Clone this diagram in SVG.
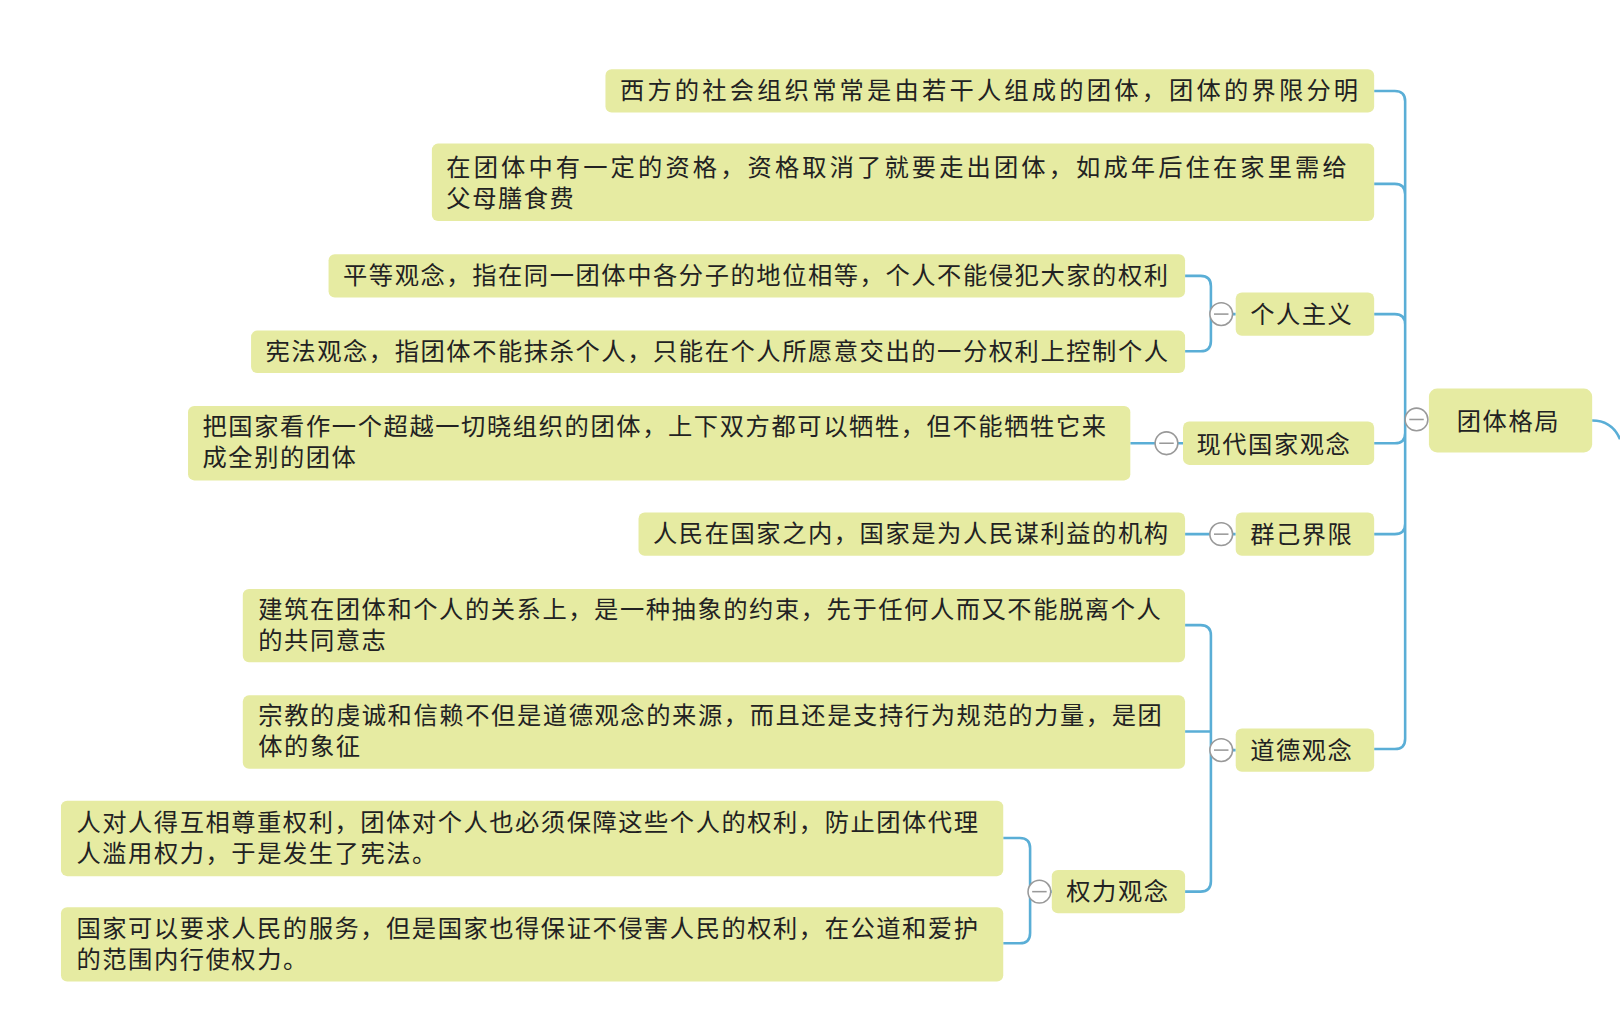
<svg xmlns="http://www.w3.org/2000/svg" width="1620" height="1031" viewBox="0 0 1620 1031">
<style>
.b{fill:#e6eba2}
.t{font-family:"Noto Sans CJK SC","Noto Sans",sans-serif;font-size:23.5px;letter-spacing:1.5px;fill:#222}
.c{fill:none;stroke:#5aaed6;stroke-width:2.5}
.o{fill:#fff;stroke:#999;stroke-width:1.5}
.m{stroke:#999;stroke-width:1.5}
</style>
<rect width="1620" height="1031" fill="#fff"/>
<g transform="scale(1.0332)">
<g id="connectors">
<path class="c" d="M1371,406 H1360 M1330,88 H1350 Q1360,88 1360,98 V715 Q1360,725 1350,725 H1330 M1330,178 H1350 Q1360,178 1360,188 M1330,304 H1350 Q1360,304 1360,314 M1330,429 H1350 Q1360,429 1360,419 M1330,517 H1350 Q1360,517 1360,507"/>
<path class="c" d="M1147,267 H1162 Q1172,267 1172,277 V330 Q1172,340 1162,340 H1147 M1172,304 H1196"/>
<path class="c" d="M1094,429 H1145"/>
<path class="c" d="M1147,517 H1196"/>
<path class="c" d="M1147,605 H1162 Q1172,605 1172,615 V853 Q1172,863 1162,863 H1147 M1147,708 H1172 M1172,726 H1196"/>
<path class="c" d="M971,811 H987 Q997,811 997,821 V903 Q997,913 987,913 H971 M997,863 H1018"/>
<path class="c" stroke-width="4" d="M1541,407 Q1560,407 1568,425"/>
</g>
<g id="root"><rect class="b" x="1383" y="376" width="158" height="62" rx="8"/><text class="t" x="1410" y="416" font-size="25">团体格局</text><circle class="o" cx="1371" cy="406" r="11"/><line class="m" x1="1364" y1="406" x2="1378" y2="406"/></g>
<g id="n1"><rect class="b" x="586" y="67" width="744" height="42" rx="6"/><text class="t" x="600" y="96" textLength="716">西方的社会组织常常是由若干人组成的团体，团体的界限分明</text></g>
<g id="n2"><rect class="b" x="418" y="139" width="912" height="75" rx="6"/><text class="t" x="432" y="170" textLength="873">在团体中有一定的资格，资格取消了就要走出团体，如成年后住在家里需给</text><text class="t" x="432" y="200">父母膳食费</text></g>
<g id="n3"><rect class="b" x="1196" y="283" width="134" height="42" rx="6"/><text class="t" x="1210" y="313" font-size="25">个人主义</text><circle class="o" cx="1182" cy="304" r="11"/><line class="m" x1="1175" y1="304" x2="1189" y2="304"/></g>
<g id="n3a"><rect class="b" x="318" y="246" width="829" height="42" rx="6"/><text class="t" x="332" y="275" textLength="800">平等观念，指在同一团体中各分子的地位相等，个人不能侵犯大家的权利</text></g>
<g id="n3b"><rect class="b" x="243" y="320" width="904" height="41" rx="6"/><text class="t" x="257" y="348" textLength="875">宪法观念，指团体不能抹杀个人，只能在个人所愿意交出的一分权利上控制个人</text></g>
<g id="n4"><rect class="b" x="1145" y="408" width="185" height="42" rx="6"/><text class="t" x="1158" y="438" font-size="25">现代国家观念</text><circle class="o" cx="1129" cy="429" r="11"/><line class="m" x1="1122" y1="429" x2="1136" y2="429"/></g>
<g id="n4a"><rect class="b" x="182" y="393" width="912" height="72" rx="6"/><text class="t" x="196" y="421" textLength="876">把国家看作一个超越一切晓组织的团体，上下双方都可以牺牲，但不能牺牲它来</text><text class="t" x="196" y="451">成全别的团体</text></g>
<g id="n5"><rect class="b" x="1196" y="496" width="134" height="42" rx="6"/><text class="t" x="1210" y="526" font-size="25">群己界限</text><circle class="o" cx="1182" cy="517" r="11"/><line class="m" x1="1175" y1="517" x2="1189" y2="517"/></g>
<g id="n5a"><rect class="b" x="618" y="496" width="529" height="42" rx="6"/><text class="t" x="632" y="525" textLength="500">人民在国家之内，国家是为人民谋利益的机构</text></g>
<g id="n6"><rect class="b" x="1196" y="705" width="134" height="42" rx="6"/><text class="t" x="1210" y="735" font-size="25">道德观念</text><circle class="o" cx="1182" cy="726" r="11"/><line class="m" x1="1175" y1="726" x2="1189" y2="726"/></g>
<g id="n6a"><rect class="b" x="235" y="570" width="912" height="71" rx="6"/><text class="t" x="250" y="598" textLength="875">建筑在团体和个人的关系上，是一种抽象的约束，先于任何人而又不能脱离个人</text><text class="t" x="250" y="628">的共同意志</text></g>
<g id="n6b"><rect class="b" x="235" y="673" width="912" height="71" rx="6"/><text class="t" x="250" y="701" textLength="876">宗教的虔诚和信赖不但是道德观念的来源，而且还是支持行为规范的力量，是团</text><text class="t" x="250" y="731">体的象征</text></g>
<g id="n7"><rect class="b" x="1018" y="842" width="129" height="42" rx="6"/><text class="t" x="1032" y="871">权力观念</text><circle class="o" cx="1006" cy="863" r="11"/><line class="m" x1="999" y1="863" x2="1013" y2="863"/></g>
<g id="n7a"><rect class="b" x="59" y="775" width="912" height="73" rx="6"/><text class="t" x="74" y="804" textLength="874">人对人得互相尊重权利，团体对个人也必须保障这些个人的权利，防止团体代理</text><text class="t" x="74" y="834">人滥用权力，于是发生了宪法。</text></g>
<g id="n7b"><rect class="b" x="59" y="878" width="912" height="72" rx="6"/><text class="t" x="74" y="907" textLength="874">国家可以要求人民的服务，但是国家也得保证不侵害人民的权利，在公道和爱护</text><text class="t" x="74" y="937">的范围内行使权力。</text></g>
</g>
</svg>
